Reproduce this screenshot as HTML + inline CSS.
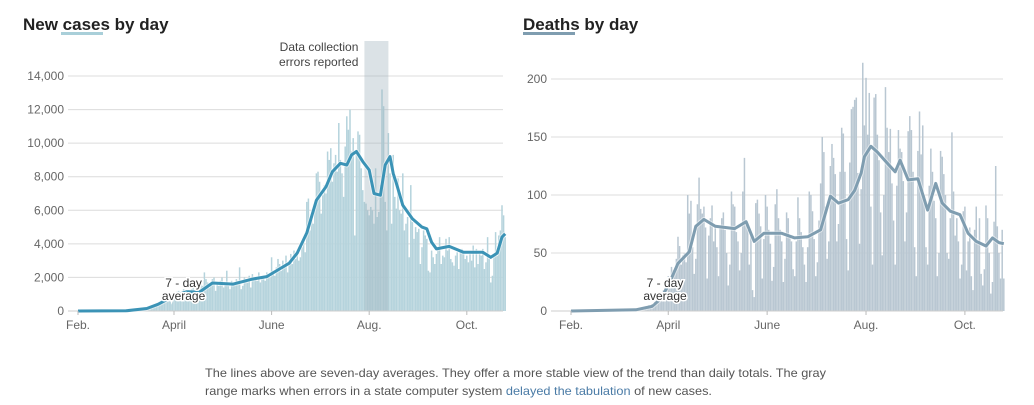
<!DOCTYPE html>
<html><head><meta charset="utf-8">
<style>
html,body{margin:0;padding:0;background:#fff;width:1034px;height:405px;overflow:hidden}
svg{display:block;font-family:"Liberation Sans",sans-serif}
.tick{font-size:12px;fill:#666}
</style></head><body>
<svg id="chart" width="1034" height="405">
  <g>
    <text x="23" y="30" font-size="17" font-weight="bold" fill="#222">New cases by day</text>
    <rect x="61" y="32" width="42" height="3" fill="#a9cfd9"/>
  </g>
  <g>
    <text x="523" y="30" font-size="17" font-weight="bold" fill="#222">Deaths by day</text>
    <rect x="523" y="32" width="52" height="3" fill="#7f9db0"/>
  </g>
  <g id="cases"></g>
  <g id="deaths"></g>
  <g font-size="12" fill="#555">
    <text x="205" y="377" textLength="621" lengthAdjust="spacingAndGlyphs">The lines above are seven-day averages. They offer a more stable view of the trend than daily totals. The gray</text>
    <text x="205" y="395" textLength="507" lengthAdjust="spacingAndGlyphs">range marks when errors in a state computer system <tspan fill="#4a7ba6">delayed the tabulation</tspan> of new cases.</text>
  </g>
</svg>
<script>
const NS="http://www.w3.org/2000/svg";
const monthLabels=["Feb.","April","June","Aug.","Oct."];
const monthDays=[0,60,121,182,243];
const casesTicks=[0,2000,4000,6000,8000,10000,12000,14000];
const deathsTicks=[0,50,100,150,200];
const casesDaily=[
0,0,0,0,0,0,0, 0,0,0,0,0,0,0, 0,0,0,0,0,0,0, 0,0,0,0,0,0,0,
0,0,1,0,2,3,5, 8,10,15,20,30,40,55, 70,90,110,150,200,220,280,
300,350,420,480,550,600,650, 700,800,850,900,1000,1100,1150,
1200,900,1000,1300,1100,1200,1250, 1100,1300,1400,1000,1200,1500,1300,
1800,1500,2300,1900,1700,1400,1600, 1900,2000,1200,1700,1500,1800,2000,
1400,1600,2400,1500,1300,1800,1700, 1600,1900,1800,2600,1300,1500,2000,
1900,1700,2100,1400,2200,1900,2000, 1800,2300,1700,2000,2100,1800,2300,
2200,2000,3200,2400,2100,2600,3100, 2800,2400,3000,2700,3300,2300,2900,
3400,2800,3600,3100,3600,3000,3200, 3800,4300,3500,6500,6700,4800,5700,
5200,6000,8200,8300,7700,5800,6900, 7500,7000,9500,9000,9700,7700,8800,
9300,8300,11200,9000,8200,6800,9800, 11600,10800,12000,9500,10300,4500,9400,
10700,10500,8500,7200,6500,6400,6000, 5700,6200,6000,5200,8500,5600,5900,
7500,13200,12200,6500,4800,10600,8200, 5200,9300,6800,6100,7900,6000,5800,
8200,4800,5200,5600,3200,7500,5300, 4300,5000,4700,4900,2800,3800,4800,
4500,4300,2400,2300,3600,3200,2800, 3400,3700,4400,2800,3300,3200,4300,
3600,4400,3100,2900,2700,3300,3500, 2500,3500,3700,3400,3100,3300,2900,
3400,3000,3900,2600,3700,2800,3400, 3300,3700,2500,2900,4400,3100,1700,
2100,3400,4700,3300,4500,4800,6300, 5700,4400];
const casesAvgDays=[0,30,43,50,55,60,68,76,84,97,109,118,125,132,137,143,149,155,159,164,168,171,174,178,182,185,189,192,195,197,199,203,209,215,218,221,224,232,241,253,258,262,265,267];
const casesAvgValues=[0,10,150,400,650,900,1150,1130,1670,1600,1900,2050,2450,2850,3450,4650,6600,7400,8300,8800,8700,9300,9500,8900,8400,7000,6900,8700,9200,8200,7600,6300,5500,5000,4900,4100,3700,3850,3500,3500,3200,3450,4400,4600];
const deathsDaily=[
0,0,0,0,0,0,0, 0,0,0,0,0,0,0, 0,0,0,0,0,0,0, 0,0,0,0,0,0,0,
0,0,0,0,0,1,0, 0,1,0,1,2,1,2, 2,1,3,2,4,3,5, 4,6,5,8,10,9,12,
15,18,20,25,30,28,38, 35,33,45,64,56,40,48, 50,42,100,84,95,55,32,
45,92,115,88,84,90,72, 28,65,80,91,60,72,55, 30,72,80,85,70,50,22,
40,103,92,90,68,60,35, 50,103,132,74,70,40,66, 18,12,93,96,84,73,28,
62,100,90,70,58,26,38, 92,105,80,70,60,25,45, 85,80,65,60,36,30,60,
98,80,68,55,40,25,55, 103,100,86,62,30,42,78, 110,150,137,90,45,60,125,
144,132,118,60,75,120,158, 153,120,62,35,128,174,176, 182,184,119,58,105,214,160,
201,152,188,90,40,184,187, 152,130,85,48,100,193,158, 137,157,110,78,40,108,156,
140,137,112,60,85,155,168, 156,120,55,30,138,172,135, 160,100,55,40,108,140,120,
95,80,30,50,138,133,118, 100,50,45,80,154,103,65, 80,60,28,40,86,90,35,
60,72,30,18,70,90,58, 80,32,22,36,91,80,50, 15,25,77,125,73,50,28, 70,28];
const deathsAvgDays=[0,40,50,55,60,66,73,77,82,89,101,108,113,119,130,138,146,154,160,165,171,175,179,181,185,189,196,200,203,208,214,220,225,229,234,240,245,250,256,260,264,267];
const deathsAvgValues=[0,1,4,10,22,41,51,73,79,73,71,77,60,67,67,63,64,70,99,93,96,104,119,133,142,137,126,120,130,113,114,87,110,93,86,83,67,60,56,63,59,58];
const errorBand=[179,194];

function el(tag,attrs,parent){const e=document.createElementNS(NS,tag);for(const k in attrs)e.setAttribute(k,attrs[k]);parent.appendChild(e);return e;}

function draw(g,cfg){
  const x=d=>cfg.x0+d*cfg.dx;
  const y=v=>cfg.y0-(v/cfg.vmax)*(cfg.y0-cfg.ytop);
  cfg.ticks.forEach(t=>{
    const gl=el("line",{x1:cfg.gx0,x2:cfg.gx1,y1:y(t),y2:y(t),stroke:"#dcdcdc","stroke-width":1},g);
    
    
    const tl=el("text",{x:cfg.lx,y:y(t)+4,"text-anchor":"end",class:"tick"},g);
    tl.textContent=t.toLocaleString("en-US");
    
    
  });
  cfg.daily.forEach((v,i)=>{
    if(v<=0)return;
    const b=el("rect",{x:x(i)-0.75,y:y(v),width:1.5,height:cfg.y0-y(v),fill:cfg.bar},g);
    
    
  });
  if(cfg.band){
    const r=el("rect",{x:x(cfg.band[0]),y:41,width:x(cfg.band[1])-x(cfg.band[0]),height:cfg.y0-41,fill:"rgba(160,180,190,0.38)"},g);
    
    
    const t1=el("text",{x:x(cfg.band[0])-6,y:51,"text-anchor":"end","font-size":"12",fill:"#444"},g);
    t1.textContent="Data collection";
    
    
    const t2=el("text",{x:x(cfg.band[0])-6,y:66,"text-anchor":"end","font-size":"12",fill:"#444"},g);
    t2.textContent="errors reported";
    
    
  }
  const axis=el("line",{x1:cfg.gx0,x2:cfg.gx1,y1:cfg.y0,y2:cfg.y0,stroke:"#ccc","stroke-width":1},g);
  
  
  const pts=cfg.avgDays.map((d,i)=>x(d).toFixed(1)+","+y(cfg.avgValues[i]).toFixed(1)).join(" ");
  const halo=el("polyline",{points:pts,fill:"none",stroke:"#fff","stroke-width":5,"stroke-linejoin":"round",opacity:0.5},g);
  
  
  const ln=el("polyline",{points:pts,fill:"none",stroke:cfg.line,"stroke-width":3,"stroke-linejoin":"round"},g);
  
  
  monthDays.forEach((d,i)=>{
    const tk=el("line",{x1:x(d),x2:x(d),y1:cfg.y0,y2:cfg.y0+4,stroke:"#bbb"},g);
    
    
    const ml=el("text",{x:x(d),y:cfg.y0+18,"text-anchor":"middle",class:"tick"},g);
    ml.textContent=monthLabels[i];
    
    
  });
  [["7 - day",cfg.y0-24],["average",cfg.y0-11]].forEach(([s,yy])=>{
    const a=el("text",{x:x(cfg.annDay),y:yy,"text-anchor":"middle","font-size":"12",fill:"#333",stroke:"#fff","stroke-width":3,"paint-order":"stroke"},g);
    a.textContent=s;
    
    
  });
}
draw(document.getElementById("cases"),{x0:78,dx:1.6,y0:311,ytop:76,vmax:14000,gx0:68,gx1:503,lx:64,ticks:casesTicks,daily:casesDaily,avgDays:casesAvgDays,avgValues:casesAvgValues,bar:"#b5d3dc",line:"#3b93b6",band:errorBand,annDay:66});
draw(document.getElementById("deaths"),{x0:571,dx:1.621,y0:311,ytop:79,vmax:200,gx0:551,gx1:1003,lx:547,ticks:deathsTicks,daily:deathsDaily,avgDays:deathsAvgDays,avgValues:deathsAvgValues,bar:"#b9c7d2",line:"#7f9db0",band:null,annDay:58});
</script>
</body></html>
